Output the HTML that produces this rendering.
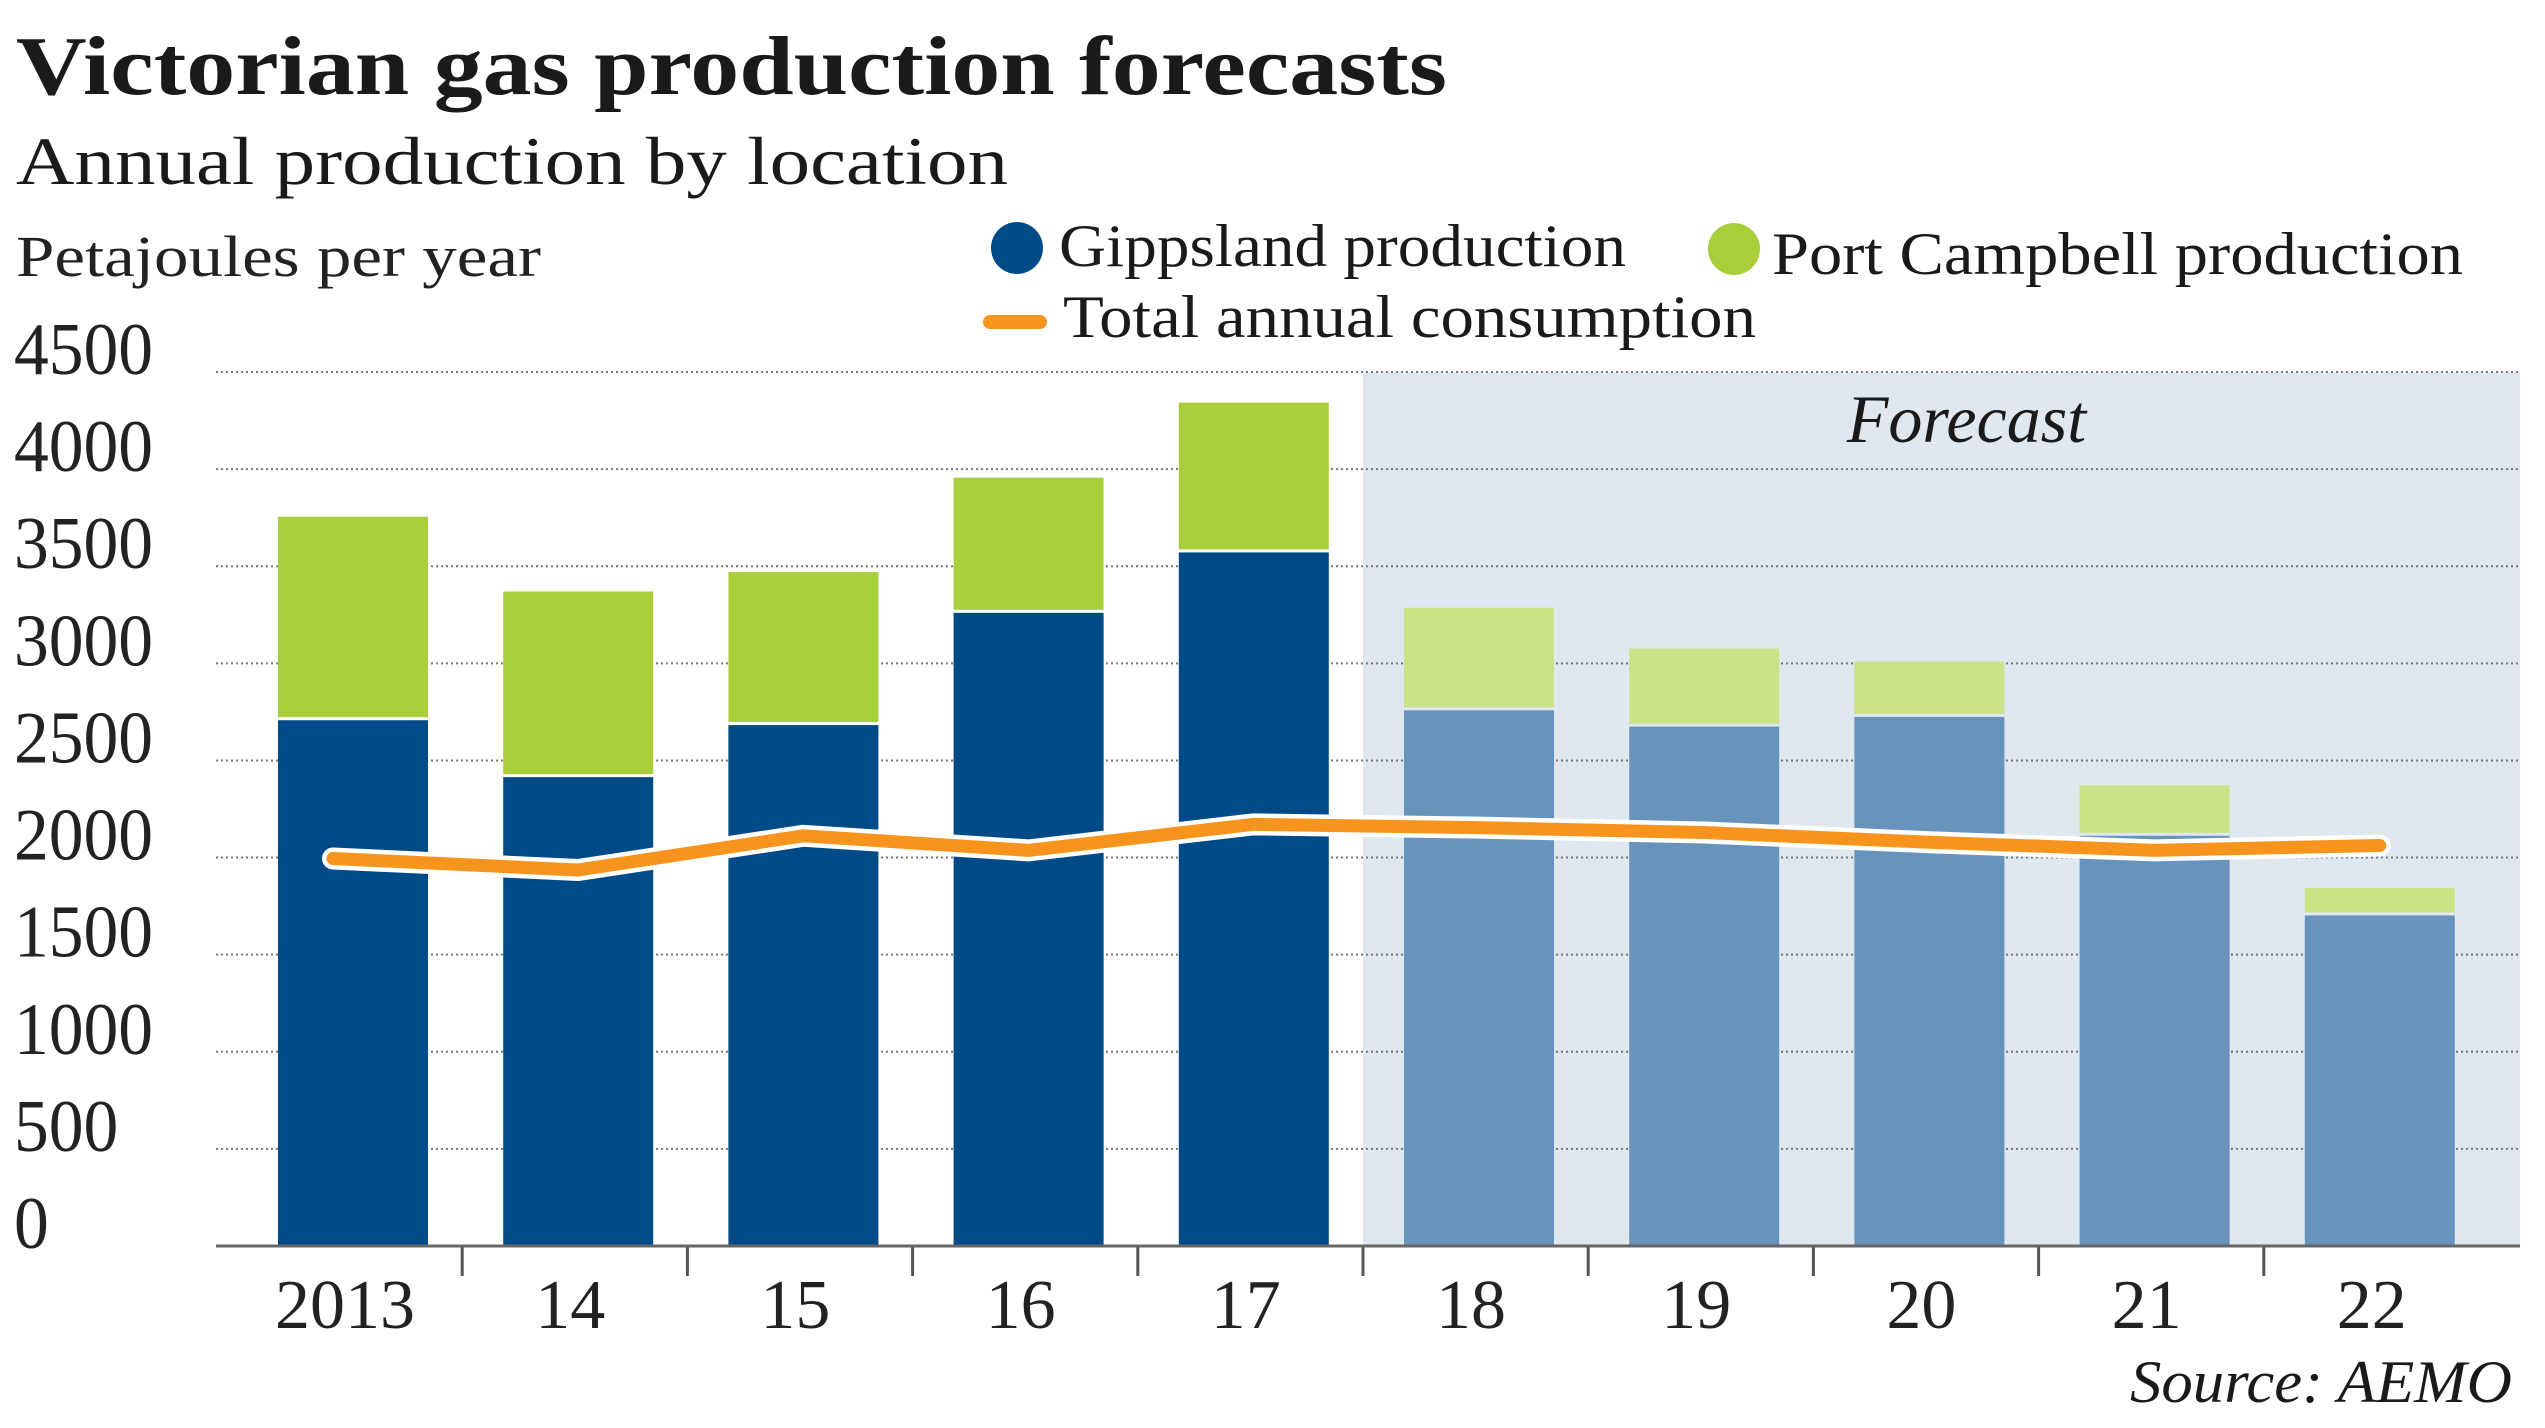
<!DOCTYPE html>
<html><head><meta charset="utf-8"><style>
html,body{margin:0;padding:0;background:#fff;}
svg{display:block;font-family:"Liberation Serif",serif;}
</style></head><body>
<svg id="chart" width="2545" height="1428" viewBox="0 0 2545 1428" xmlns="http://www.w3.org/2000/svg">
<text x="16" y="94" font-size="84" font-weight="bold" fill="#1a1a1a" textLength="1431" lengthAdjust="spacingAndGlyphs">Victorian gas production forecasts</text>
<text x="16" y="184" font-size="68" fill="#1a1a1a" textLength="992" lengthAdjust="spacingAndGlyphs">Annual production by location</text>
<text x="16" y="276" font-size="58" fill="#222" textLength="525" lengthAdjust="spacingAndGlyphs">Petajoules per year</text>
<g>
<circle cx="1017" cy="248" r="26" fill="#004a87"/>
<text x="1059" y="266" font-size="60" fill="#1a1a1a" textLength="567" lengthAdjust="spacingAndGlyphs">Gippsland production</text>
<circle cx="1734" cy="249" r="26" fill="#a8cf3a"/>
<text x="1772" y="274" font-size="60" fill="#1a1a1a" textLength="691" lengthAdjust="spacingAndGlyphs">Port Campbell production</text>
<line x1="990" y1="322" x2="1040" y2="322" stroke="#f7941d" stroke-width="14" stroke-linecap="round"/>
<text x="1063" y="337" font-size="60" fill="#1a1a1a" textLength="693" lengthAdjust="spacingAndGlyphs">Total annual consumption</text>
</g>
<g id="plot"></g>
<text x="2512" y="1402" font-size="60" font-style="italic" fill="#1a1a1a" text-anchor="end" textLength="382" lengthAdjust="spacingAndGlyphs">Source: AEMO</text>
</svg>
<script>
const categories = ["2013","14","15","16","17","18","19","20","21","22"];
const isForecast = [false,false,false,false,false,true,true,true,true,true];
const gippsland = [2707,2414,2682,3260,3571,2758,2674,2724,2112,1702];
const portCampbell = [1048,956,788,696,771,528,402,285,260,142];
const consumption = [1995,1936,2112,2037,2171,2154,2129,2079,2037,2062];
const yTicks = [0,500,1000,1500,2000,2500,3000,3500,4000,4500];

const NS = "http://www.w3.org/2000/svg";
const plot = document.getElementById("plot");
const X0 = 216, X1 = 2520, Y0 = 1246, YTOP = 372, YMAX = 4500;
const pitch = 225.2, firstLeft = 278, barW = 150;
function yScale(v){ return Y0 - v/YMAX*(Y0-YTOP); }
function xLeft(i){ return firstLeft + i*pitch; }
function xCenter(i){ return xLeft(i) + barW/2; }
function mk(tag, attrs){ const e=document.createElementNS(NS,tag); for(const k in attrs) e.setAttribute(k,attrs[k]); plot.appendChild(e); return e; }

const fIdx = isForecast.indexOf(true);
const bandX = xLeft(fIdx) - 41;
const band = mk("rect",{x:bandX,y:YTOP,width:X1-bandX,height:Y0-YTOP,fill:"#dfe7ef"});


const ft = mk("text",{x:(bandX+X1)/2+25,y:442,"font-size":68,"font-style":"italic","text-anchor":"middle",fill:"#1a1a1a"});
ft.textContent = "Forecast";



yTicks.forEach(t=>{
  const y = yScale(t);
  if(t>0){
    const g = mk("line",{x1:X0,x2:X1,y1:y,y2:y,stroke:"#777","stroke-width":2,"stroke-dasharray":"2 3"});
    
    
  }
  const l = mk("text",{x:14,y:y+2,"font-size":74,fill:"#222",transform:"translate(14 0) scale(0.94 1) translate(-14 0)"});
  l.textContent = t;
  
  
});

categories.forEach((c,i)=>{
  const f = isForecast[i];
  const gTop = yScale(gippsland[i]);
  const tTop = yScale(gippsland[i]+portCampbell[i]);
  const b1 = mk("rect",{x:xLeft(i),y:gTop,width:barW,height:Y0-gTop,fill:f?"#6793bc":"#004a87"});
  
  
  const b2 = mk("rect",{x:xLeft(i),y:tTop,width:barW,height:gTop-tTop-3,fill:f?"#cce287":"#a8cf3a"});
  
  
  const xl = mk("text",{x:xCenter(i)-8,y:1328,"font-size":70,"text-anchor":"middle",fill:"#222"});
  xl.textContent = c;
  
  
  if(i>0){
    const tx = xLeft(i) - 41;
    const tk = mk("line",{x1:tx,x2:tx,y1:Y0,y2:Y0+30,stroke:"#555","stroke-width":3});
    
    
  }
});

const base = mk("line",{x1:X0,x2:X1,y1:Y0,y2:Y0,stroke:"#666","stroke-width":3});



const pts = consumption.map((v,i)=>(i===0?xCenter(i)-20:xCenter(i))+","+yScale(v)).join(" ");
const halo = mk("polyline",{points:pts,fill:"none",stroke:"#fff","stroke-width":22,"stroke-linejoin":"round","stroke-linecap":"round"});


const ln = mk("polyline",{points:pts,fill:"none",stroke:"#f7941d","stroke-width":13,"stroke-linejoin":"round","stroke-linecap":"round"});


</script>
</body></html>
